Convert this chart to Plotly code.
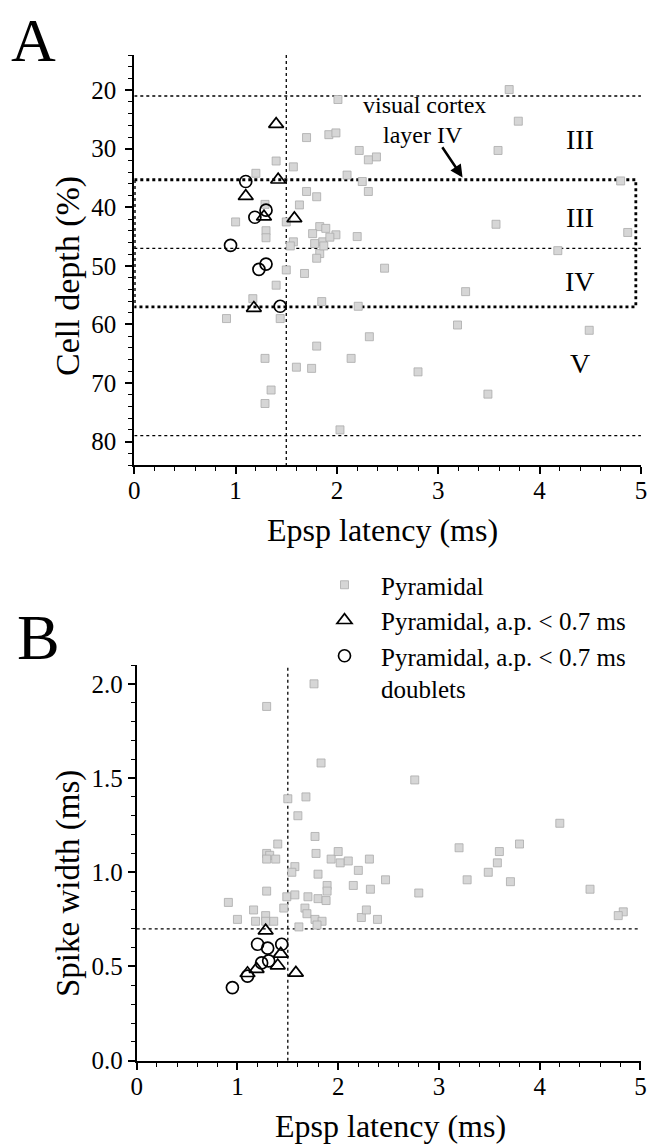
import plotly.graph_objects as go

# ---------------- data ----------------
# Panel A: Epsp latency (ms) vs cell depth (%)
pyrA_x = [3.70, 2.01, 3.79, 1.70, 1.92, 1.99, 3.59, 2.22, 2.39, 2.31, 1.40, 1.57, 1.20, 2.10,
          2.25, 2.31, 1.70, 1.80, 1.63, 1.29, 4.80, 1.00, 1.30, 1.30, 1.50, 1.83, 1.76, 1.99,
          2.20, 1.57, 1.86, 1.83, 1.89, 1.93, 1.87, 1.78, 1.54, 3.57, 4.87, 4.18, 1.50, 1.68,
          1.40, 1.80, 2.47, 1.17, 1.85, 2.21, 1.44, 0.91, 3.27, 3.19, 4.49, 2.32, 1.80, 1.29,
          2.14, 1.60, 1.75, 2.80, 1.35, 1.29, 3.49, 2.03]
pyrA_y = [19.9, 21.6, 25.3, 28.1, 27.6, 27.3, 30.3, 30.3, 31.4, 31.9, 32.1, 33.1, 34.2, 34.5,
          35.6, 37.3, 37.3, 38.2, 39.6, 39.5, 35.5, 42.5, 44.0, 45.2, 42.5, 43.3, 44.5, 44.7,
          45.0, 45.9, 45.9, 47.9, 43.6, 45.1, 46.6, 46.2, 46.6, 42.9, 44.3, 47.4, 50.7, 51.3,
          53.3, 48.7, 50.4, 55.6, 56.1, 56.9, 59.0, 59.0, 54.4, 60.1, 61.0, 62.1, 63.7, 65.8,
          65.8, 67.3, 67.5, 68.1, 71.2, 73.5, 71.9, 78.0]
triA_x = [1.40, 1.42, 1.10, 1.28, 1.58, 1.18]
triA_y = [25.8, 35.3, 38.1, 41.6, 41.9, 57.2]
cirA_x = [1.10, 1.30, 1.19, 0.95, 1.30, 1.23, 1.44]
cirA_y = [35.6, 40.5, 41.7, 46.5, 49.7, 50.6, 56.9]

# Panel B: Epsp latency (ms) vs spike width (ms)
pyrB_x = [1.76, 1.29, 1.83, 2.76, 1.50, 1.68, 1.60, 4.20, 1.77, 1.40, 3.80, 3.20, 3.60, 1.29,
          1.32, 1.38, 1.29, 1.78, 1.93, 2.00, 2.02, 2.10, 2.20, 2.31, 1.57, 1.54, 1.80, 3.58,
          3.49, 3.28, 2.47, 3.71, 2.15, 2.32, 1.89, 1.29, 1.49, 1.57, 1.70, 1.80, 1.88, 1.89,
          2.80, 4.50, 0.91, 1.46, 1.16, 1.28, 1.67, 1.69, 2.23, 2.28, 4.83, 4.78, 1.00, 1.18,
          1.28, 1.36, 1.77, 1.84, 1.79, 1.61, 2.39]
pyrB_y = [2.00, 1.88, 1.58, 1.49, 1.39, 1.40, 1.30, 1.26, 1.19, 1.15, 1.15, 1.13, 1.11, 1.10,
          1.09, 1.07, 1.07, 1.10, 1.07, 1.11, 1.05, 1.06, 1.01, 1.07, 1.03, 1.00, 0.99, 1.05,
          1.00, 0.96, 0.96, 0.95, 0.93, 0.91, 0.93, 0.90, 0.87, 0.88, 0.87, 0.86, 0.85, 0.90,
          0.89, 0.91, 0.84, 0.81, 0.80, 0.77, 0.81, 0.78, 0.76, 0.80, 0.79, 0.77, 0.75, 0.74,
          0.74, 0.74, 0.75, 0.74, 0.72, 0.71, 0.75]
triB_x = [1.28, 1.43, 1.40, 1.19, 1.10, 1.58]
triB_y = [0.69, 0.567, 0.505, 0.486, 0.464, 0.466]
cirB_x = [0.95, 1.10, 1.20, 1.30, 1.24, 1.31, 1.44]
cirB_y = [0.388, 0.449, 0.618, 0.597, 0.519, 0.530, 0.618]

legend_names = ["Pyramidal", "Pyramidal, a.p. < 0.7 ms", "Pyramidal, a.p. < 0.7 ms<br>doublets"]

# reference lines
A_layer_lines = [21, 47, 79]
A_box = [35.3, 57.0]
A_box_right = 4.95
latency_cut = 1.5
width_cut = 0.7
layer_labels = ["III", "III", "IV", "V"]
layer_label_y = [28.4, 41.7, 52.7, 66.6]

# ---------------- styling ----------------
FONT = "Liberation Serif, Times New Roman, serif"
W, H = 647, 1145

def px_x(p):
    return p / W

def px_y(p):
    return 1 - p / H

pyr_marker = dict(symbol="square", size=8, color="#d6d6d6", line=dict(width=0.8, color="#ababab"))
tri_marker = dict(symbol="triangle-up-open", size=13, color="black", line=dict(width=1.7, color="black"))
cir_marker = dict(symbol="circle-open", size=12, color="black", line=dict(width=1.7, color="black"))

fig = go.Figure()
fig.add_trace(go.Scatter(x=pyrA_x, y=pyrA_y, mode="markers", marker=pyr_marker, showlegend=False, xaxis="x", yaxis="y"))
fig.add_trace(go.Scatter(x=triA_x, y=triA_y, mode="markers", marker=tri_marker, showlegend=False, xaxis="x", yaxis="y"))
fig.add_trace(go.Scatter(x=cirA_x, y=cirA_y, mode="markers", marker=cir_marker, showlegend=False, xaxis="x", yaxis="y"))
fig.add_trace(go.Scatter(x=pyrB_x, y=pyrB_y, mode="markers", marker=pyr_marker, name=legend_names[0], xaxis="x2", yaxis="y2"))
fig.add_trace(go.Scatter(x=triB_x, y=triB_y, mode="markers", marker=tri_marker, name=legend_names[1], xaxis="x2", yaxis="y2"))
fig.add_trace(go.Scatter(x=cirB_x, y=cirB_y, mode="markers", marker=cir_marker, name=legend_names[2], xaxis="x2", yaxis="y2"))

axis_common = dict(showline=True, linecolor="black", linewidth=2, ticks="outside", ticklen=7,
                   tickwidth=1.5, tickcolor="black", showgrid=False, zeroline=False,
                   ticklabeloverflow="allow",
                   tickfont=dict(family=FONT, size=25, color="black"))
minor_common = dict(ticklen=4, tickwidth=1, ticks="outside", tickcolor="black")

fig.update_layout(
    width=W, height=H,
    margin=dict(l=0, r=0, t=0, b=0, autoexpand=False),
    paper_bgcolor="white", plot_bgcolor="white",
    font=dict(family=FONT, color="black"),
    xaxis=dict(domain=[px_x(134.3), px_x(641.0)], anchor="y", range=[0, 5.001], dtick=1, tick0=0,
               ticklabelstandoff=-5, minor=dict(dtick=0.2, **minor_common), **axis_common),
    yaxis=dict(domain=[px_y(465), px_y(55)], anchor="x", range=[84, 14], dtick=10, tick0=0,
               ticklabelstandoff=4, minor=dict(dtick=2, **minor_common), **axis_common),
    xaxis2=dict(domain=[px_x(136.7), px_x(640.5)], anchor="y2", range=[0, 5.001], dtick=1, tick0=0,
                ticklabelstandoff=-5, minor=dict(dtick=0.2, **minor_common), **axis_common),
    yaxis2=dict(domain=[px_y(1060.7), px_y(665)], anchor="x2", range=[0, 2.1], dtick=0.5, tick0=0,
                tickformat=".1f", minor=dict(dtick=0.1, **minor_common), **axis_common),
    legend=dict(x=px_x(308), y=px_y(562), xanchor="left", yanchor="top",
                font=dict(family=FONT, size=25, color="black"),
                itemwidth=63, valign="top", bgcolor="rgba(0,0,0,0)", tracegroupgap=0),
)

shapes = []
for yv in A_layer_lines:
    shapes.append(dict(type="line", xref="x", yref="y", x0=0, x1=5, y0=yv, y1=yv,
                       line=dict(color="black", width=1.3, dash="dot"), layer="below"))
shapes.append(dict(type="rect", xref="x", yref="y", x0=0, x1=A_box_right, y0=A_box[0], y1=A_box[1],
                   line=dict(color="black", width=2.8, dash="dot"), layer="below"))
shapes.append(dict(type="line", xref="x", yref="y", x0=latency_cut, x1=latency_cut, y0=14, y1=84,
                   line=dict(color="black", width=1.3, dash="dot"), layer="below"))
shapes.append(dict(type="line", xref="x2", yref="y2", x0=latency_cut, x1=latency_cut, y0=0, y1=2.1,
                   line=dict(color="black", width=1.3, dash="dot"), layer="below"))
shapes.append(dict(type="line", xref="x2", yref="y2", x0=0, x1=5, y0=width_cut, y1=width_cut,
                   line=dict(color="black", width=1.3, dash="dot"), layer="below"))
fig.update_layout(shapes=shapes)

def paper_text(text, xp, yp, size, angle=0):
    return dict(text=text, x=px_x(xp), y=px_y(yp), xref="paper", yref="paper", showarrow=False,
                xanchor="center", yanchor="middle", textangle=angle,
                font=dict(family=FONT, size=size, color="black"))

ann = []
ann.append(paper_text("A", 33, 40, 62))
ann.append(paper_text("B", 38, 638, 64))
ann.append(paper_text("Cell depth (%)", 68, 276, 34, -90))
ann.append(paper_text("Epsp latency (ms)", 382, 530, 32))
ann.append(paper_text("Spike width (ms)", 68, 884, 33, -90))
ann.append(paper_text("Epsp latency (ms)", 390, 1126, 32))

def data_text(text, x, y, size):
    return dict(text=text, x=x, y=y, xref="x", yref="y", showarrow=False,
                xanchor="center", yanchor="middle", font=dict(family=FONT, size=size, color="black"))

ann.append(data_text("visual cortex", 2.86, 22.5, 24))
ann.append(data_text("layer IV", 2.85, 27.7, 24))
ann.append(dict(text="", x=3.24, y=34.9, ax=3.03, ay=29.5, xref="x", yref="y", axref="x", ayref="y",
                showarrow=True, arrowhead=2, arrowsize=1, arrowwidth=2.5, arrowcolor="black"))
for lbl, yv in zip(layer_labels, layer_label_y):
    ann.append(data_text(lbl, 4.40, yv, 28))
fig.update_layout(annotations=ann)

fig.write_html("out.html", config={"displayModeBar": False},
               post_script="document.body.style.margin='0';document.body.style.padding='0';")
